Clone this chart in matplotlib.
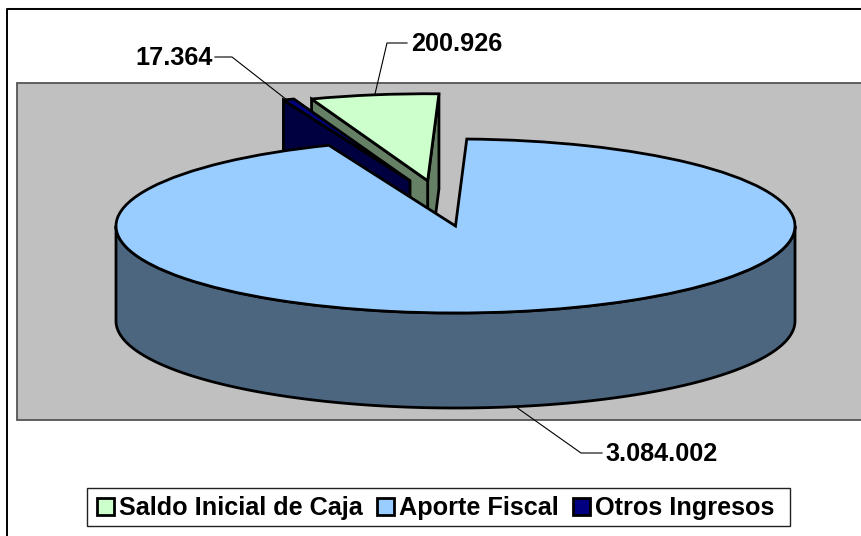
import numpy as np
import matplotlib
matplotlib.use("Agg")
import matplotlib.pyplot as plt
from matplotlib.patches import Polygon, Rectangle, Patch

categories = ["Saldo Inicial de Caja", "Aporte Fiscal", "Otros Ingresos"]
values = [200926, 3084002, 17364]
value_labels = ["200.926", "3.084.002", "17.364"]
top_colors = ["#CCFFCC", "#99CCFF", "#000080"]
side_colors = ["#668066", "#4D6680", "#000040"]

W, H = 861, 536
plt.rcParams["font.family"] = ["Liberation Sans", "DejaVu Sans"]
plt.rcParams["font.weight"] = "bold"
fig = plt.figure(figsize=(W / 100, H / 100), dpi=100, facecolor="white")

# pixel-space layers
bg = fig.add_axes([0, 0, 1, 1], zorder=0)
bg.set_xlim(0, W); bg.set_ylim(H, 0); bg.axis("off")
fg = fig.add_axes([0, 0, 1, 1], zorder=2)
fg.set_xlim(0, W); fg.set_ylim(H, 0); fg.axis("off"); fg.patch.set_alpha(0)

bg.add_patch(Rectangle((16.5, 82.5), W, 337.5, fc="#C0C0C0", ec="#555555", lw=1.3, clip_on=True))
bg.plot([6, W], [7.5, 7.5], color="#999999", lw=0.8, solid_capstyle="butt")
bg.plot([6.5, 6.5, W], [H, 8.5, 8.5], color="black", lw=1.4, solid_capstyle="butt")

# pie layer: data unit = pie radius, y squashed by the ellipse ratio
cx, cy, rx, ry = 455.5, 226.0, 339.5, 87.0
depth = 95.0 / ry
ax = fig.add_axes([0, 0, 1, 1], zorder=1)
wedges, _ = ax.pie(values, startangle=110, counterclock=False, radius=1,
                   colors=top_colors, wedgeprops=dict(ec="black", lw=2.0, joinstyle="miter"))
ax.set_aspect("auto")
ax.set_xlim(-cx / rx, (W - cx) / rx)
ax.set_ylim((cy - H) / ry, cy / ry)
ax.axis("off")
ax.patch.set_alpha(0)

# slice offsets in radii (x, y), in order of categories
offsets = [(-0.082, 0.52), (0.0, 0.0), (-0.134, 0.52)]
z_tops = [4, 8, 6]
for w, off, z in zip(wedges, offsets, z_tops):
    w.set_center(off)
    w.set_zorder(z)

def pt(c, deg):
    return c[0] + np.cos(np.radians(deg)), c[1] + np.sin(np.radians(deg))

def radial_face(c, deg, color, z):
    x, y = pt(c, deg)
    poly = [(c[0], c[1]), (x, y), (x, y - depth), (c[0], c[1] - depth)]
    ax.add_patch(Polygon(poly, closed=True, fc=color, ec="black", lw=2.0, zorder=z))

saldo, aporte, otros = wedges
# exploded slices: faces that look towards the viewer
radial_face(saldo.center, saldo.theta1, side_colors[0], 3)   # right-hand end
radial_face(saldo.center, saldo.theta2, side_colors[0], 3)   # left-hand end
radial_face(otros.center, otros.theta2, side_colors[2], 5)   # left-hand end

# main slice: front of the rim
t = np.radians(np.linspace(180, 360, 240))
xs, ys = np.cos(t), np.sin(t)
rim = np.column_stack([np.r_[xs, xs[::-1]], np.r_[ys, ys[::-1] - depth]])
ax.add_patch(Polygon(rim, closed=True, fc=side_colors[1], ec="black", lw=2.0, zorder=7))

# leader lines and value labels
leaders = [([375, 387, 407], [94, 43, 43]), ([516, 581, 602], [407, 453, 453]), ([287, 232, 215], [100, 57, 57])]
anchors = [(411.5, 44), (605.5, 454), (135.5, 58)]
for (lx, ly), (tx, ty), s in zip(leaders, anchors, value_labels):
    fg.plot(lx, ly, color="black", lw=0.8)
    fg.text(tx, ty, s, fontsize=18.2, fontweight="bold", va="center", ha="left", color="black")

# legend: box drawn separately so its padding can differ per side
fg.add_patch(Rectangle((86.5, 487.5), 703, 38, fc="white", ec="#222222", lw=1.0, zorder=3))
handles = [Patch(fc=c, ec="black", lw=2.0) for c in top_colors]
leg = fg.legend(handles, categories, loc="center", ncol=3, bbox_to_anchor=(435.8 / W, 1 - 508.3 / H),
                bbox_transform=fig.transFigure, fontsize=18.2, frameon=False,
                handlelength=0.66, handleheight=0.66, handletextpad=0.22, columnspacing=0.55,
                borderpad=0.2, borderaxespad=0, labelspacing=0)
leg.set_zorder(4)

fig.savefig("out.png", dpi=100)
